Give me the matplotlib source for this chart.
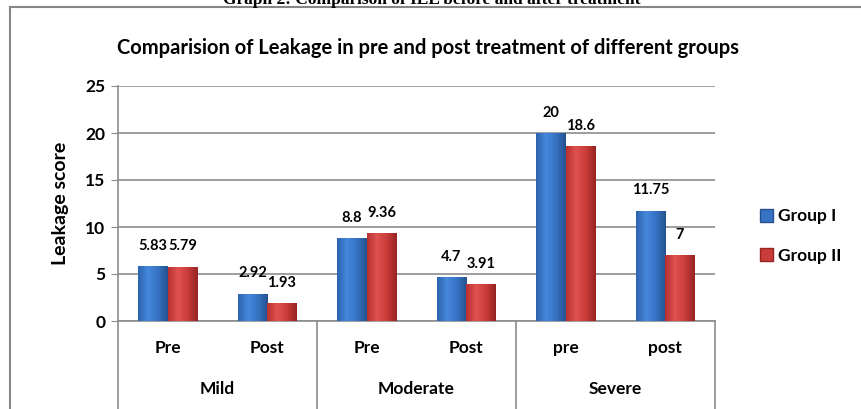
import matplotlib.pyplot as plt
import numpy as np
from matplotlib.colors import LinearSegmentedColormap
from matplotlib.patches import Patch

# data
groups = ["Mild", "Moderate", "Severe"]
stages = ["Pre", "Post", "Pre", "Post", "pre", "post"]
group_1 = [5.83, 2.92, 8.8, 4.7, 20, 11.75]
group_2 = [5.79, 1.93, 9.36, 3.91, 18.6, 7]
series_names = ["Group I", "Group II"]

plt.rcParams['font.family'] = ['Lato', 'DejaVu Sans']
plt.rcParams['font.weight'] = 'bold'

W, H = 862, 409
fig = plt.figure(figsize=(W / 100, H / 100), dpi=100)

def fx(px):
    return px / W

def fy(py):
    return 1 - py / H

# outer chart frame (only top and left edges are visible)
fig.add_artist(plt.Line2D([fx(10), 1], [fy(7), fy(7)], color='#868686', lw=1.5))
fig.add_artist(plt.Line2D([fx(10), fx(10)], [fy(7), 0], color='#868686', lw=1.5))

# cut-off document caption
fig.text(fx(432), fy(4), "Graph 2: Comparison of IEL before and after treatment",
         ha='center', va='baseline', fontsize=12.5, fontweight='bold',
         family='Liberation Serif')

fig.text(fx(428), fy(48), "Comparision of Leakage in pre and post treatment of different groups",
         ha='center', va='center', fontsize=14.5, fontweight='bold')

ax = fig.add_axes([fx(118), fy(321), fx(715) - fx(118), fy(86) - fy(321)])

x = np.arange(len(stages))
bw = 0.295

blue_cm = LinearSegmentedColormap.from_list('b', ['#2d63ae', '#4688dc', '#3673c4', '#24528f'])
red_cm = LinearSegmentedColormap.from_list('r', ['#b8302f', '#df5250', '#c93c3a', '#962423'])
grad = np.linspace(0, 1, 64).reshape(1, -1)

for vals, off, cm, col in [(group_1, -bw / 2, blue_cm, '#3673c4'),
                           (group_2, bw / 2, red_cm, '#c93c3a')]:
    bars = ax.bar(x + off, vals, bw, color=col, zorder=3)
    for b, v in zip(bars, vals):
        im = ax.imshow(grad, cmap=cm, aspect='auto', zorder=4,
                       extent=[b.get_x(), b.get_x() + b.get_width(), 0, v])
        im.set_clip_path(b)
        ax.annotate(f"{v:g}", (b.get_x() + b.get_width() / 2, v), xytext=(0, 14.5),
                    textcoords='offset points', ha='center', va='center',
                    fontsize=10.5, fontweight='bold', zorder=5)

ax.set_xlim(-0.5, len(stages) - 0.5)
ax.set_ylim(0, 25)
ax.set_yticks(range(0, 26, 5))
ax.yaxis.grid(True, color='#8c8c8c', lw=1.2, zorder=0)
ax.set_axisbelow(True)
ax.tick_params(axis='y', length=5, color='#8c8c8c', labelsize=12.5, pad=4)
ax.tick_params(axis='x', length=0, labelbottom=False)
for s in ['top', 'right']:
    ax.spines[s].set_visible(False)
for s in ['left', 'bottom']:
    ax.spines[s].set_color('#8c8c8c')
    ax.spines[s].set_linewidth(1.2)
for lab in ax.get_yticklabels():
    lab.set_fontweight('bold')

ax.set_ylabel("Leakage score", fontsize=14, fontweight='bold', labelpad=12)

# two-level category axis
trans = ax.get_xaxis_transform()
for xi, s in zip(x, stages):
    ax.text(xi, -27 / 235, s, transform=trans, ha='center', va='center',
            fontsize=12.5, fontweight='bold')
for gi, g in enumerate(groups):
    ax.text(2 * gi + 0.5, -68 / 235, g, transform=trans, ha='center', va='center',
            fontsize=12.5, fontweight='bold')
for sep in [-0.5, 1.5, 3.5, 5.5]:
    ax.plot([sep, sep], [0, -0.4], transform=trans, color='#8c8c8c', lw=1.2,
            clip_on=False)

handles = [Patch(facecolor='#3673c4', edgecolor='#24528f'),
           Patch(facecolor='#c93c3a', edgecolor='#962423')]
fig.legend(handles, series_names, loc='center left',
           bbox_to_anchor=(fx(744), fy(236)), frameon=False,
           prop={'size': 12.5, 'weight': 'bold'}, handlelength=0.75,
           handleheight=0.75, handletextpad=0.3, labelspacing=1.35)

fig.savefig("out.png", dpi=100)
